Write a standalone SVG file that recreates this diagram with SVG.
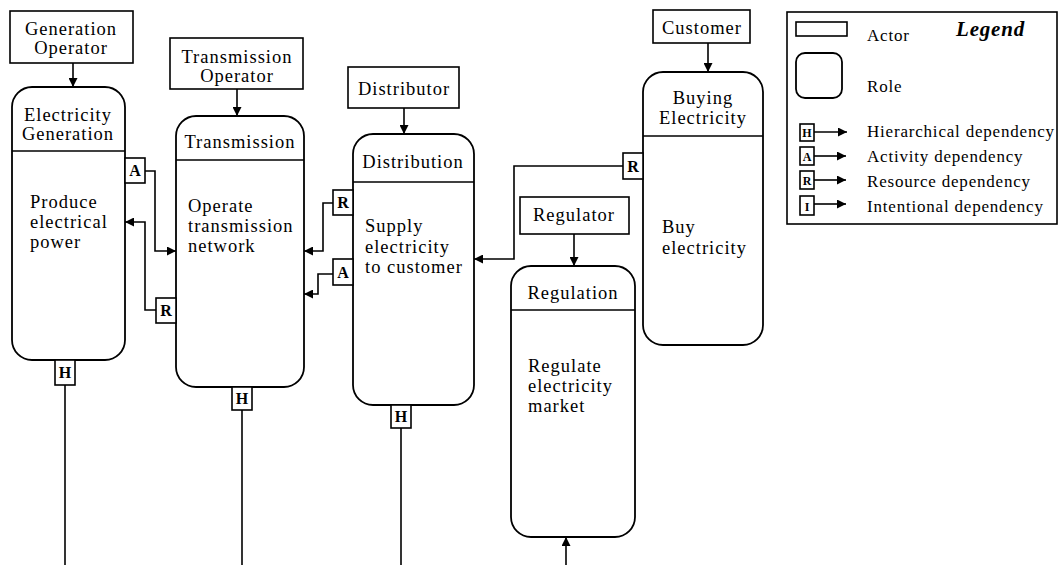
<svg xmlns="http://www.w3.org/2000/svg" width="1060" height="565" viewBox="0 0 1060 565">
  <style>
    .actor { fill: #fff; stroke: #000; stroke-width: 1.6; }
    .role { fill: #fff; stroke: #000; stroke-width: 1.8; }
    .sep { stroke: #000; stroke-width: 1.6; }
    .t { font-family: "Liberation Serif", "Times New Roman", serif; font-size: 18.5px; fill: #000; letter-spacing: 1px; }
    .c { text-anchor: middle; }
    .lg { font-family: "Liberation Serif", "Times New Roman", serif; font-size: 17px; fill: #000; letter-spacing: 0.8px; }
    .dep { fill: #fff; stroke: #000; stroke-width: 1.6; }
    .dl { font-family: "Liberation Serif", "Times New Roman", serif; font-size: 16px; font-weight: bold; fill: #000; text-anchor: middle; }
    .dls { font-family: "Liberation Serif", "Times New Roman", serif; font-size: 12px; font-weight: bold; fill: #000; text-anchor: middle; }
    .ln { fill: none; stroke: #000; stroke-width: 1.6; }
  </style>
  <defs>
    <marker id="arr" viewBox="0 0 10 10" refX="10" refY="5" markerWidth="10" markerHeight="9" markerUnits="userSpaceOnUse" orient="auto">
      <path d="M0,0 L10,5 L0,10 z" fill="#000"/>
    </marker>
  </defs>

  <rect width="1060" height="565" fill="#fff"/>

  <!-- actors -->
  <g id="generation-operator">
    <rect class="actor" x="10" y="11" width="123" height="52"/>
    <text class="t c" x="71" y="35">Generation</text>
    <text class="t c" x="71" y="54">Operator</text>
  </g>
  <g id="transmission-operator">
    <rect class="actor" x="170" y="38" width="133" height="51"/>
    <text class="t c" x="237" y="63">Transmission</text>
    <text class="t c" x="237" y="82">Operator</text>
  </g>
  <g id="distributor">
    <rect class="actor" x="348" y="67" width="111" height="41"/>
    <text class="t c" x="404" y="95">Distributor</text>
  </g>
  <g id="regulator">
    <rect class="actor" x="520" y="197" width="109" height="37"/>
    <text class="t c" x="574" y="221">Regulator</text>
  </g>
  <g id="customer">
    <rect class="actor" x="653" y="10" width="97" height="33"/>
    <text class="t c" x="702" y="34">Customer</text>
  </g>

  <!-- roles -->
  <g id="electricity-generation">
    <rect class="role" x="12" y="87" width="113" height="273" rx="20"/>
    <line class="sep" x1="12" y1="151" x2="125" y2="151"/>
    <text class="t c" x="68" y="121">Electricity</text>
    <text class="t c" x="68" y="140">Generation</text>
    <text class="t" x="30" y="208">Produce</text>
    <text class="t" x="30" y="228">electrical</text>
    <text class="t" x="30" y="248">power</text>
  </g>
  <g id="transmission">
    <rect class="role" x="176" y="116" width="128" height="271" rx="20"/>
    <line class="sep" x1="176" y1="160" x2="304" y2="160"/>
    <text class="t c" x="240" y="148">Transmission</text>
    <text class="t" x="188" y="212">Operate</text>
    <text class="t" x="188" y="232">transmission</text>
    <text class="t" x="188" y="252">network</text>
  </g>
  <g id="distribution">
    <rect class="role" x="353" y="134" width="121" height="271" rx="20"/>
    <line class="sep" x1="353" y1="182" x2="474" y2="182"/>
    <text class="t c" x="413" y="168">Distribution</text>
    <text class="t" x="365" y="232">Supply</text>
    <text class="t" x="365" y="253">electricity</text>
    <text class="t" x="365" y="273">to customer</text>
  </g>
  <g id="regulation">
    <rect class="role" x="511" y="266" width="124" height="271" rx="20"/>
    <line class="sep" x1="511" y1="310" x2="635" y2="310"/>
    <text class="t c" x="573" y="299">Regulation</text>
    <text class="t" x="528" y="372">Regulate</text>
    <text class="t" x="528" y="392">electricity</text>
    <text class="t" x="528" y="412">market</text>
  </g>
  <g id="buying-electricity">
    <rect class="role" x="643" y="72" width="120" height="273" rx="20"/>
    <line class="sep" x1="643" y1="136" x2="763" y2="136"/>
    <text class="t c" x="703" y="104">Buying</text>
    <text class="t c" x="703" y="124">Electricity</text>
    <text class="t" x="662" y="233">Buy</text>
    <text class="t" x="662" y="254">electricity</text>
  </g>

  <!-- connectors -->
  <g id="connectors">
    <!-- actor plays role -->
    <line class="ln" x1="73" y1="63" x2="73" y2="87" marker-end="url(#arr)"/>
    <line class="ln" x1="237" y1="89" x2="237" y2="116" marker-end="url(#arr)"/>
    <line class="ln" x1="404" y1="108" x2="404" y2="134" marker-end="url(#arr)"/>
    <line class="ln" x1="574" y1="234" x2="574" y2="266" marker-end="url(#arr)"/>
    <line class="ln" x1="708" y1="43" x2="708" y2="72" marker-end="url(#arr)"/>

    <!-- activity: generation -> transmission -->
    <polyline class="ln" points="145,171 155,171 155,251 176,251" marker-end="url(#arr)"/>
    <rect class="dep" x="125" y="158" width="20" height="25"/>
    <text class="dl" x="135" y="176">A</text>

    <!-- resource: transmission -> generation -->
    <polyline class="ln" points="156,310 145,310 145,222 125,222" marker-end="url(#arr)"/>
    <rect class="dep" x="156" y="298" width="20" height="25"/>
    <text class="dl" x="166" y="316">R</text>

    <!-- resource: distribution -> transmission -->
    <polyline class="ln" points="333,203 323,203 323,251 304,251" marker-end="url(#arr)"/>
    <rect class="dep" x="333" y="190" width="20" height="25"/>
    <text class="dl" x="343" y="208">R</text>

    <!-- activity: distribution -> transmission -->
    <polyline class="ln" points="333,274 318,274 318,294 304,294" marker-end="url(#arr)"/>
    <rect class="dep" x="333" y="259" width="20" height="26"/>
    <text class="dl" x="343" y="278">A</text>

    <!-- resource: buying electricity -> distribution -->
    <polyline class="ln" points="623,166 514,166 514,259 474,259" marker-end="url(#arr)"/>
    <rect class="dep" x="623" y="153" width="20" height="26"/>
    <text class="dl" x="633" y="172">R</text>

    <!-- hierarchical links running off the bottom -->
    <line class="ln" x1="65" y1="385" x2="65" y2="565"/>
    <rect class="dep" x="55" y="360" width="20" height="25"/>
    <text class="dl" x="65" y="378">H</text>

    <line class="ln" x1="242" y1="410" x2="242" y2="565"/>
    <rect class="dep" x="232" y="387" width="20" height="23"/>
    <text class="dl" x="242" y="404">H</text>

    <line class="ln" x1="401" y1="428" x2="401" y2="565"/>
    <rect class="dep" x="391" y="405" width="20" height="23"/>
    <text class="dl" x="401" y="422">H</text>

    <line class="ln" x1="566" y1="565" x2="566" y2="537" marker-end="url(#arr)"/>
  </g>

  <!-- legend -->
  <g id="legend">
    <rect x="787" y="12" width="270" height="212" fill="#fff" stroke="#000" stroke-width="1.6"/>
    <text x="956" y="36" font-family="'Liberation Serif', 'Times New Roman', serif" font-size="21" font-weight="bold" font-style="italic" letter-spacing="0.8">Legend</text>
    <rect class="actor" x="796" y="22" width="51" height="14"/>
    <text class="lg" x="867" y="41">Actor</text>
    <rect class="role" x="796" y="53" width="46" height="45" rx="9"/>
    <text class="lg" x="867" y="92">Role</text>

    <rect class="dep" x="800" y="124" width="14" height="17"/>
    <text class="dls" x="807" y="137">H</text>
    <line class="ln" x1="814" y1="132" x2="847" y2="132" marker-end="url(#arr)"/>
    <text class="lg" x="867" y="137">Hierarchical dependency</text>

    <rect class="dep" x="800" y="147" width="14" height="18"/>
    <text class="dls" x="807" y="161">A</text>
    <line class="ln" x1="814" y1="156" x2="846" y2="156" marker-end="url(#arr)"/>
    <text class="lg" x="867" y="162">Activity dependency</text>

    <rect class="dep" x="800" y="171" width="14" height="18"/>
    <text class="dls" x="807" y="185">R</text>
    <line class="ln" x1="814" y1="180" x2="846" y2="180" marker-end="url(#arr)"/>
    <text class="lg" x="867" y="187">Resource dependency</text>

    <rect class="dep" x="800" y="196" width="14" height="19"/>
    <text class="dls" x="807" y="211">I</text>
    <line class="ln" x1="814" y1="204" x2="846" y2="204" marker-end="url(#arr)"/>
    <text class="lg" x="867" y="212">Intentional dependency</text>
  </g>
</svg>
